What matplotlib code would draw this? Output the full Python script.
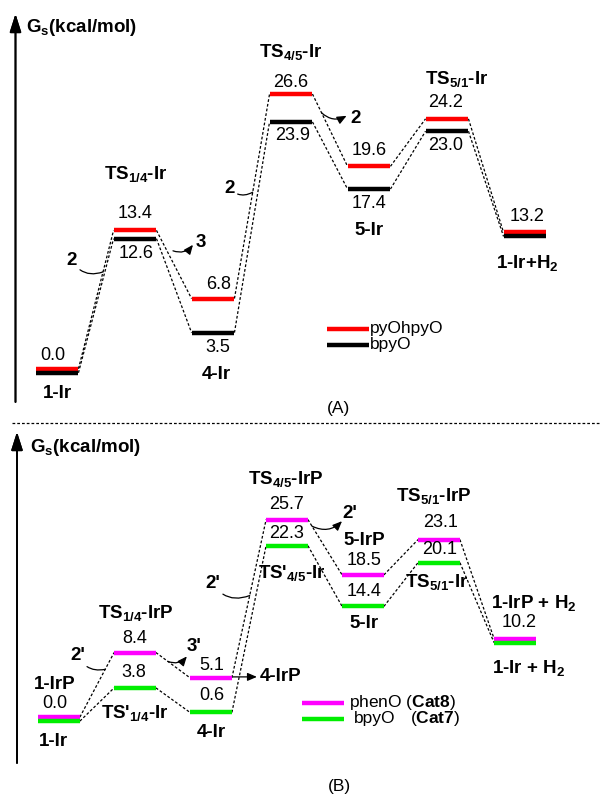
import matplotlib.pyplot as plt
from matplotlib.lines import Line2D

plt.rcParams['font.family'] = ['Liberation Sans', 'DejaVu Sans']
plt.rcParams['mathtext.fontset'] = 'custom'
plt.rcParams['mathtext.rm'] = 'Liberation Sans'
plt.rcParams['mathtext.bf'] = 'Liberation Sans:bold'
plt.rcParams['mathtext.default'] = 'regular'

# ---- data: free energies (kcal/mol) along the pathway ----
# panel A
pyohpyo = [0.0, 13.4, 6.8, 26.6, 19.6, 24.2, 13.2]
bpyo_a = [0.0, 12.6, 3.5, 23.9, 17.4, 23.0, 13.2]
names_a = ['1-Ir', 'TS$_{1/4}$-Ir', '4-Ir', 'TS$_{4/5}$-Ir', '5-Ir',
           'TS$_{5/1}$-Ir', '1-Ir+H$_2$']
# panel B
pheno = [0.0, 8.4, 5.1, 25.7, 18.5, 23.1, 10.2]
bpyo_b = [0.0, 3.8, 0.6, 22.3, 14.4, 20.1, 10.2]
names_pheno = ['1-IrP', 'TS$_{1/4}$-IrP', '4-IrP', 'TS$_{4/5}$-IrP', '5-IrP',
               'TS$_{5/1}$-IrP', '1-IrP + H$_2$']
names_bpyo = ['1-Ir', "TS'$_{1/4}$-Ir", '4-Ir', "TS'$_{4/5}$-Ir", '5-Ir',
              'TS$_{5/1}$-Ir', '1-Ir + H$_2$']

W, H = 602, 798
PX = 0.72          # points per pixel at dpi 100
HW = 0.275         # half width of a level bar
RED, MAG, GRN = '#ff0000', '#ff00ff', '#00ee00'

fig = plt.figure(figsize=(W / 100, H / 100), dpi=100)


def make_axes(top, bottom, x0, dx, y0, dy):
    # axes spanning figure pixel rows top..bottom; stage i at x0 + dx*i px,
    # energy E at y0 - dy*E px
    ax = fig.add_axes([0, 1 - bottom / H, 1, (bottom - top) / H])
    ax.set_xlim(-x0 / dx, (W - x0) / dx)
    ax.set_ylim((y0 - bottom) / dy, (y0 - top) / dy)
    ax.axis('off')
    ax.sx, ax.sy = dx, dy
    return ax


axA = make_axes(0, 415, 57, 78, 368.8, 10.33)
axB = make_axes(415, H, 59, 76, 717.1, 7.687)


def nudges(first, second, ax):
    return [4 / ax.sy if abs(a - b) < 0.05 else 0 for a, b in zip(first, second)]


def levels(ax, vals, nud, color):
    ys = [v - n for v, n in zip(vals, nud)]
    for i, y in enumerate(ys):
        ax.plot([i - HW, i + HW], [y, y], color=color, lw=3.2,
                solid_capstyle='butt', zorder=3)
    for i in range(len(ys) - 1):
        ax.plot([i + HW, i + 1 - HW], [ys[i], ys[i + 1]], color='black',
                lw=0.9, ls=(0, (2.2, 1.6)), zorder=2)
    return ys


def link_pt(ys, i, t):
    x0, x1 = i + HW, i + 1 - HW
    return x0 + t * (x1 - x0), ys[i] + t * (ys[i + 1] - ys[i])


def shift(ax, p, dxp, dyp):
    return p[0] + dxp / ax.sx, p[1] + dyp / ax.sy


def lab(ax, x, y, s, dx, dy, bold=False, size=13, ha='center'):
    ax.annotate(s, (x, y), xytext=(dx * PX, dy * PX), textcoords='offset points',
                ha=ha, va='center', fontsize=size,
                fontweight='bold' if bold else 'normal')


def hook(ax, s, touch, dxp, dyp, rad=0.4):
    # bold label joined to a connector by a thin curve
    ax.annotate(s, touch, xytext=(dxp * PX, dyp * PX), textcoords='offset points',
                ha='center', va='center', fontsize=13.5, fontweight='bold',
                arrowprops=dict(arrowstyle='-', lw=0.9, color='black',
                                connectionstyle=f'arc3,rad={rad}',
                                shrinkA=0, shrinkB=0))


def curved_arrow(ax, tail, dxp, dyp, rad=0.35):
    head = shift(ax, tail, dxp, dyp)
    ax.annotate('', head, xytext=tail,
                arrowprops=dict(arrowstyle='-|>,head_length=0.7,head_width=0.3',
                                mutation_scale=8, lw=0.9, color='black',
                                connectionstyle=f'arc3,rad={rad}',
                                shrinkA=0, shrinkB=0))


# ---------------- panel A ----------------
nA = nudges(pyohpyo, bpyo_a, axA)
yr = levels(axA, pyohpyo, [0] * 7, RED)
yk = levels(axA, bpyo_a, nA, 'black')

val_off_red = [(-4, 13), (0, 17), (6, 14), (0, 12), (0, 16), (-1, 16), (2, 16)]
for i, v in enumerate(pyohpyo):
    lab(axA, i, yr[i], f'{v:.1f}', *val_off_red[i])
val_off_blk = {1: (1, -15), 2: (5, -15), 3: (2, -14), 4: (0, -14), 5: (-1, -14)}
for i, (dx, dy) in val_off_blk.items():
    lab(axA, i, yk[i], f'{bpyo_a[i]:.1f}', dx, dy)

name_off_a = {0: ('k', 0, -21), 1: ('r', 1, 56), 2: ('k', 3, -42), 3: ('r', 0, 42),
              4: ('k', 0, -41), 5: ('r', 10, 40), 6: ('k', 2, -27)}
for i, (which, dx, dy) in name_off_a.items():
    y = yr[i] if which == 'r' else yk[i]
    lab(axA, i, y, names_a[i], dx, dy, bold=True, size=13.5)

hook(axA, '2', link_pt(yr, 0, 0.7), -31, 11)
t3 = shift(axA, link_pt(yr, 1, 0.3), 6, 0)
curved_arrow(axA, t3, 20, 6)
lab(axA, *shift(axA, t3, 28, 8), '3', 0, 0, bold=True, size=13.5)
hook(axA, '2', link_pt(yr, 2, 0.52), -23, 4)
t2 = link_pt(yr, 3, 0.26)
curved_arrow(axA, t2, 25, -3)
lab(axA, *shift(axA, t2, 34, -6), '2', 0, 0, bold=True, size=13.5)

# ---------------- panel B ----------------
nB = nudges(pheno, bpyo_b, axB)
ym = levels(axB, pheno, [0] * 7, MAG)
yg = levels(axB, bpyo_b, nB, GRN)

val_off_mag = [(-4, 14), (0, 14), (1, 12), (0, 15), (1, 14), (2, 17), (4, 16)]
for i, v in enumerate(pheno):
    lab(axB, i, ym[i], f'{v:.1f}', *val_off_mag[i])
val_off_grn = {1: (-1, 15), 2: (1, 17), 3: (0, 12), 4: (1, 15), 5: (1, 13)}
for i, (dx, dy) in val_off_grn.items():
    lab(axB, i, yg[i], f'{bpyo_b[i]:.1f}', dx, dy)

name_off_mag = {0: (-4, 33), 1: (1, 40), 3: (-1, 41), 4: (1, 34), 5: (-5, 44), 6: (19, 36)}
for i, (dx, dy) in name_off_mag.items():
    lab(axB, i, ym[i], names_pheno[i], dx, dy, bold=True, size=13.5)
name_off_grn = [(-6, -20), (0, -25), (0, -20), (5, -27), (1, -17), (-2, -19), (14, -25)]
for i, (dx, dy) in enumerate(name_off_grn):
    lab(axB, i, yg[i], names_bpyo[i], dx, dy, bold=True, size=13.5)

# 4-IrP pointer
p4 = shift(axB, (2 + HW, ym[2]), 1, 1)
axB.annotate('', shift(axB, p4, 24, 0), xytext=p4,
             arrowprops=dict(arrowstyle='-|>,head_length=0.7,head_width=0.3',
                             mutation_scale=8, lw=0.9, color='black',
                             shrinkA=0, shrinkB=0))
lab(axB, *shift(axB, p4, 27, 0), names_pheno[2], 0, 0, bold=True, size=13.5, ha='left')

hook(axB, "2'", link_pt(ym, 0, 0.74), -27, 14)
t3b = link_pt(ym, 1, 0.35)
curved_arrow(axB, t3b, 19, 5)
lab(axB, *shift(axB, t3b, 26, 15), "3'", 0, 0, bold=True, size=13.5)
hook(axB, "2'", link_pt(ym, 2, 0.52), -37, 12)
t2b = link_pt(ym, 3, 0.12)
curved_arrow(axB, t2b, 30, 5)
lab(axB, *shift(axB, t2b, 38, 13), "2'", 0, 0, bold=True, size=13.5)

# ---------------- frame decorations (figure pixels) ----------------
def fx(x):
    return x / W


def fy(y):
    return 1 - y / H


def fig_line(x0, y0, x1, y1, **kw):
    fig.add_artist(Line2D([fx(x0), fx(x1)], [fy(y0), fy(y1)],
                          transform=fig.transFigure, **kw))


def fig_text(x, y, s, **kw):
    fig.text(fx(x), fy(y), s, va='center', **kw)


for x, yb, yt in [(15.5, 402, 14), (17, 763, 432)]:
    fig.add_artist(plt.annotate('', xy=(fx(x), fy(yt)), xytext=(fx(x), fy(yb)),
                                xycoords='figure fraction',
                                arrowprops=dict(arrowstyle='-|>,head_length=1.1,head_width=0.35',
                                                mutation_scale=10, lw=1.3,
                                                color='black', shrinkA=0, shrinkB=0)))

fig_text(26, 28, 'G$_s$(kcal/mol)', fontsize=13.5, fontweight='bold')
fig_text(30, 447, 'G$_s$(kcal/mol)', fontsize=13.5, fontweight='bold')

fig_line(12, 423, 600, 423, color='black', lw=0.9, ls=(0, (2.2, 1.6)))

# legends
fig_line(327, 329, 369, 329, color=RED, lw=3.2, solid_capstyle='butt')
fig_line(327, 345, 369, 345, color='black', lw=3.2, solid_capstyle='butt')
fig_text(370, 329, 'pyOhpyO', fontsize=12.5)
fig_text(370, 345, 'bpyO', fontsize=12.5)

fig_line(302, 703, 344, 703, color=MAG, lw=3.2, solid_capstyle='butt')
fig_line(302, 719, 344, 719, color=GRN, lw=3.2, solid_capstyle='butt')
fig_text(349, 703, r'phenO ($\mathbf{Cat8}$)', fontsize=12.5)
fig_text(354, 719, 'bpyO', fontsize=12.5)
fig_text(410, 719, r'($\mathbf{Cat7}$)', fontsize=12.5)

fig_text(338, 408, '(A)', fontsize=12.5, ha='center')
fig_text(339, 787, '(B)', fontsize=12.5, ha='center')

fig.savefig('out.png', dpi=100)
